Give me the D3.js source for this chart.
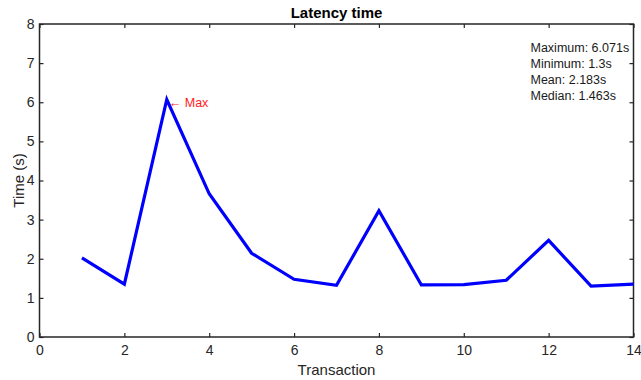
<!DOCTYPE html>
<html>
<head>
<meta charset="utf-8">
<script src="https://cdn.jsdelivr.net/npm/d3@7"></script>
<style>
  html, body { margin: 0; padding: 0; background: #fff; }
  svg { display: block; font-family: "Liberation Sans", Arial, Helvetica, sans-serif; }
</style>
</head>
<body>
<svg id="chart" width="641" height="380"></svg>
<script>
// Latency per transaction (seconds)
const transactions = [1, 2, 3, 4, 5, 6, 7, 8, 9, 10, 11, 12, 13, 14];
const latency = [2.02, 1.35, 6.071, 3.66, 2.14, 1.476, 1.32, 3.23, 1.33, 1.34, 1.45, 2.47, 1.3, 1.35];
const xTicks = [0, 2, 4, 6, 8, 10, 12, 14];
const yTicks = [0, 1, 2, 3, 4, 5, 6, 7, 8];
const statLines = ["Maximum: 6.071s", "Minimum: 1.3s", "Mean: 2.183s", "Median: 1.463s"];

const svg = d3.select("#chart");
const margin = { left: 39.5, right: 7.5, top: 24, bottom: 43 };
const W = 641, H = 380;
const axisColor = "#262626";

const x = d3.scaleLinear().domain([0, 14]).range([margin.left, W - margin.right]);
const y = d3.scaleLinear().domain([0, 8]).range([H - margin.bottom, margin.top]);

// axes: ticks point inward, box on all four sides
const tickLen = 4;
function styleAxis(g) {
  g.select(".domain").remove();
  g.selectAll("line").attr("stroke", axisColor).attr("stroke-width", 1.2);
  g.selectAll("text").attr("fill", axisColor).attr("font-size", 14);
}
svg.append("g")
  .attr("transform", `translate(0,${y(0)})`)
  .call(d3.axisBottom(x).tickValues(xTicks).tickFormat(d3.format("d")).tickSizeInner(-tickLen).tickSizeOuter(0).tickPadding(8))
  .call(styleAxis);
svg.append("g")
  .attr("transform", `translate(0,${y(8)})`)
  .call(d3.axisTop(x).tickValues(xTicks).tickFormat("").tickSizeInner(-tickLen).tickSizeOuter(0))
  .call(styleAxis);
svg.append("g")
  .attr("transform", `translate(${x(0)},0)`)
  .call(d3.axisLeft(y).tickValues(yTicks).tickFormat(d3.format("d")).tickSizeInner(-tickLen).tickSizeOuter(0).tickPadding(5))
  .call(styleAxis);
svg.append("g")
  .attr("transform", `translate(${x(14)},0)`)
  .call(d3.axisRight(y).tickValues(yTicks).tickFormat("").tickSizeInner(-tickLen).tickSizeOuter(0))
  .call(styleAxis);

svg.append("rect")
  .attr("x", x(0)).attr("y", y(8))
  .attr("width", x(14) - x(0)).attr("height", y(0) - y(8))
  .attr("fill", "none").attr("stroke", axisColor).attr("stroke-width", 1.5);

// latency line
const line = d3.line().x((d, i) => x(transactions[i])).y(d => y(d));
svg.append("path")
  .datum(latency)
  .attr("d", line)
  .attr("fill", "none")
  .attr("stroke", "#0000ff")
  .attr("stroke-width", 3.2)
  .attr("stroke-linejoin", "miter");

// max marker label
const maxVal = d3.max(latency);
const maxIdx = latency.indexOf(maxVal);
svg.append("text")
  .attr("x", x(transactions[maxIdx]) + 2)
  .attr("y", y(maxVal) + 3)
  .attr("dy", "0.35em")
  .attr("fill", "#ff1a1a")
  .attr("font-size", 12.5)
  .text("\u2190 Max");

// summary statistics
svg.append("g")
  .selectAll("text")
  .data(statLines)
  .join("text")
  .attr("x", 530.5)
  .attr("y", (d, i) => 52 + i * 16)
  .attr("fill", "#1a1a1a")
  .attr("font-size", 12.5)
  .text(d => d);

// titles
svg.append("text")
  .attr("x", (x(0) + x(14)) / 2)
  .attr("y", 18)
  .attr("text-anchor", "middle")
  .attr("font-weight", "bold")
  .attr("font-size", 15)
  .attr("fill", "#000")
  .text("Latency time");

svg.append("text")
  .attr("x", (x(0) + x(14)) / 2)
  .attr("y", 375)
  .attr("text-anchor", "middle")
  .attr("font-size", 15)
  .attr("fill", axisColor)
  .text("Transaction");

svg.append("text")
  .attr("transform", `translate(24,${(y(0) + y(8)) / 2}) rotate(-90)`)
  .attr("text-anchor", "middle")
  .attr("font-size", 15)
  .attr("fill", axisColor)
  .text("Time (s)");
</script>
</body>
</html>
